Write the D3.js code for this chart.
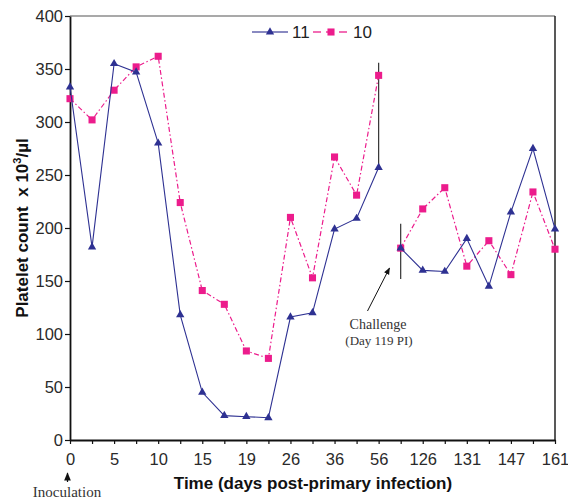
<!DOCTYPE html>
<html>
<head>
<meta charset="utf-8">
<script src="https://cdn.jsdelivr.net/npm/d3@7"></script>
<style>
  body { margin: 0; background: #fff; }
  svg { display: block; }
</style>
</head>
<body>
<div id="chart"></div>
<script>
(function () {
  "use strict";

  // x positions are evenly spaced sample slots; only every other one is labelled
  const tickLabels = ["0", "", "5", "", "10", "", "15", "", "19", "", "26", "", "36", "", "56", "", "126", "", "131", "", "147", "", "161"];
  const yTicks = [0, 50, 100, 150, 200, 250, 300, 350, 400];

  // animal 11 (triangles) and animal 10 (squares), split at the challenge
  const series11 = [333, 182, 355, 347, 280, 118, 45, 23, 22, 21, 116, 120, 199, 209, 257, 181, 160, 159, 190, 145, 215, 275, 199];
  const series10 = [322, 302, 330, 352, 362, 224, 141, 128, 84, 77, 210, 153, 267, 231, 344, 181, 218, 238, 164, 188, 156, 234, 180];
  const breakAfter = 14;

  // vertical marker lines [slot, from, to]
  const markerLines = [[14, 356, 257], [15, 204, 152]];

  const width = 568, height = 502;
  const margin = { top: 16, right: 13, bottom: 62, left: 70 };
  const sans = "Liberation Sans, Arial, sans-serif";
  const serif = "Liberation Serif, Times New Roman, serif";

  const svg = d3.select("#chart").append("svg").attr("width", width).attr("height", height);

  svg.append("defs").append("marker")
    .attr("id", "arrow")
    .attr("viewBox", "0 0 10 10")
    .attr("refX", 9).attr("refY", 5)
    .attr("markerWidth", 7).attr("markerHeight", 7)
    .attr("orient", "auto")
    .append("path")
    .attr("d", "M0,1 L10,5 L0,9 z")
    .attr("fill", "#111");

  const x = d3.scaleLinear().domain([0, tickLabels.length - 1]).range([margin.left, width - margin.right]);
  const y = d3.scaleLinear().domain([0, 400]).range([height - margin.bottom, margin.top]);

  // frame (top + right)
  svg.append("line")
    .attr("x1", x(0)).attr("x2", x(22)).attr("y1", y(400)).attr("y2", y(400))
    .attr("stroke", "#555").attr("stroke-width", 1.2);
  svg.append("line")
    .attr("x1", x(22)).attr("x2", x(22)).attr("y1", y(400)).attr("y2", y(0))
    .attr("stroke", "#222").attr("stroke-width", 1.5);

  svg.append("g")
    .attr("transform", "translate(0," + y(0) + ")")
    .call(d3.axisBottom(x).tickValues(d3.range(tickLabels.length)).tickFormat(function (i) { return tickLabels[i]; }).tickSize(4).tickPadding(9).tickSizeOuter(0))
    .call(function (g) {
      g.select(".domain").attr("stroke", "#111").attr("stroke-width", 1.8);
      g.selectAll("line").attr("stroke", "#111").attr("stroke-width", 1.2);
      g.selectAll("text").attr("fill", "#2a2a2a").attr("font-size", 16.5).attr("font-family", sans);
    });

  svg.append("g")
    .attr("transform", "translate(" + x(0) + ",0)")
    .call(d3.axisLeft(y).tickValues(yTicks).tickSize(5).tickPadding(2).tickSizeOuter(0))
    .call(function (g) {
      g.select(".domain").attr("stroke", "#111").attr("stroke-width", 1.8);
      g.selectAll("line").attr("stroke", "#111").attr("stroke-width", 1.2);
      g.selectAll("text").attr("fill", "#2a2a2a").attr("font-size", 16.5).attr("font-family", sans);
    });

  // axis titles
  svg.append("text")
    .attr("x", 313).attr("y", 489)
    .attr("text-anchor", "middle")
    .attr("font-family", sans)
    .attr("font-weight", "bold").attr("font-size", 17).attr("fill", "#111")
    .text("Time (days post-primary infection)");

  const yTitle = svg.append("text")
    .attr("transform", "translate(28," + ((y(0) + y(400)) / 2) + ") rotate(-90)")
    .attr("text-anchor", "middle")
    .style("white-space", "pre")
    .attr("font-family", sans)
    .attr("font-weight", "bold").attr("font-size", 17).attr("fill", "#111");
  yTitle.append("tspan").text("Platelet count  x 10");
  yTitle.append("tspan").attr("font-size", 11).attr("dy", -7).text("3");
  yTitle.append("tspan").attr("dy", 7).text("/\u00b5l");

  function drawSegments(values, attrs) {
    const parts = [values.slice(0, breakAfter + 1), values.slice(breakAfter + 1)];
    parts.forEach(function (part, k) {
      const offset = k === 0 ? 0 : breakAfter + 1;
      const p = svg.append("path")
        .datum(part)
        .attr("fill", "none")
        .attr("d", d3.line().x(function (_, i) { return x(i + offset); }).y(function (d) { return y(d); }));
      Object.keys(attrs).forEach(function (a) { p.attr(a, attrs[a]); });
    });
  }

  const blue = "#2e3192";
  const pink = "#ec1c8c";

  // marker lines
  svg.selectAll("line.marker")
    .data(markerLines)
    .enter()
    .append("line")
    .attr("class", "marker")
    .attr("x1", function (d) { return x(d[0]); })
    .attr("x2", function (d) { return x(d[0]); })
    .attr("y1", function (d) { return y(d[1]); })
    .attr("y2", function (d) { return y(d[2]); })
    .attr("stroke", "#333").attr("stroke-width", 1.2);

  drawSegments(series10, { stroke: pink, "stroke-width": 1.2, "stroke-dasharray": "5,2.5,1.5,2.5" });

  svg.append("g")
    .selectAll("path")
    .data(series10)
    .enter()
    .append("path")
    .attr("transform", function (d, i) { return "translate(" + x(i) + "," + y(d) + ")"; })
    .attr("d", d3.symbol().type(d3.symbolSquare).size(50))
    .attr("fill", pink);

  drawSegments(series11, { stroke: blue, "stroke-width": 1.1 });

  svg.append("g")
    .selectAll("path")
    .data(series11)
    .enter()
    .append("path")
    .attr("transform", function (d, i) { return "translate(" + x(i) + "," + y(d) + ")"; })
    .attr("d", d3.symbol().type(d3.symbolTriangle).size(30))
    .attr("fill", blue);

  // legend
  const legend = svg.append("g").attr("transform", "translate(0,32)");
  legend.append("line").attr("x1", 252).attr("x2", 288).attr("stroke", blue).attr("stroke-width", 1.4).attr("opacity", 0.75);
  legend.append("path").attr("transform", "translate(270,0)").attr("d", d3.symbol().type(d3.symbolTriangle).size(30)).attr("fill", blue);
  legend.append("text").attr("x", 292).attr("y", 6).attr("font-size", 17).attr("fill", "#222")
    .attr("font-family", sans).text("11");
  legend.append("line").attr("x1", 313).attr("x2", 349).attr("stroke", pink).attr("stroke-width", 1.4).attr("stroke-dasharray", "8,5").attr("opacity", 0.85);
  legend.append("path").attr("transform", "translate(331,0)").attr("d", d3.symbol().type(d3.symbolSquare).size(50)).attr("fill", pink);
  legend.append("text").attr("x", 353).attr("y", 6).attr("font-size", 17).attr("fill", "#222")
    .attr("font-family", sans).text("10");

  // challenge annotation
  svg.append("line")
    .attr("x1", 367.5).attr("y1", 311).attr("x2", 389.5).attr("y2", 268)
    .attr("stroke", "#111").attr("stroke-width", 1).attr("marker-end", "url(#arrow)");
  svg.append("text").attr("x", 378).attr("y", 329).attr("text-anchor", "middle")
    .attr("font-family", serif).attr("font-size", 14).attr("fill", "#333")
    .text("Challenge");
  svg.append("text").attr("x", 379).attr("y", 345).attr("text-anchor", "middle")
    .attr("font-family", serif).attr("font-size", 13).attr("fill", "#333")
    .text("(Day 119 PI)");

  // inoculation note
  svg.append("line")
    .attr("x1", 67.5).attr("y1", 482).attr("x2", 67.5).attr("y2", 473)
    .attr("stroke", "#111").attr("stroke-width", 1.2).attr("marker-end", "url(#arrow)");
  svg.append("text").attr("x", 67).attr("y", 497).attr("text-anchor", "middle")
    .attr("font-family", serif).attr("font-size", 15).attr("fill", "#333")
    .text("Inoculation");
})();
</script>
</body>
</html>
